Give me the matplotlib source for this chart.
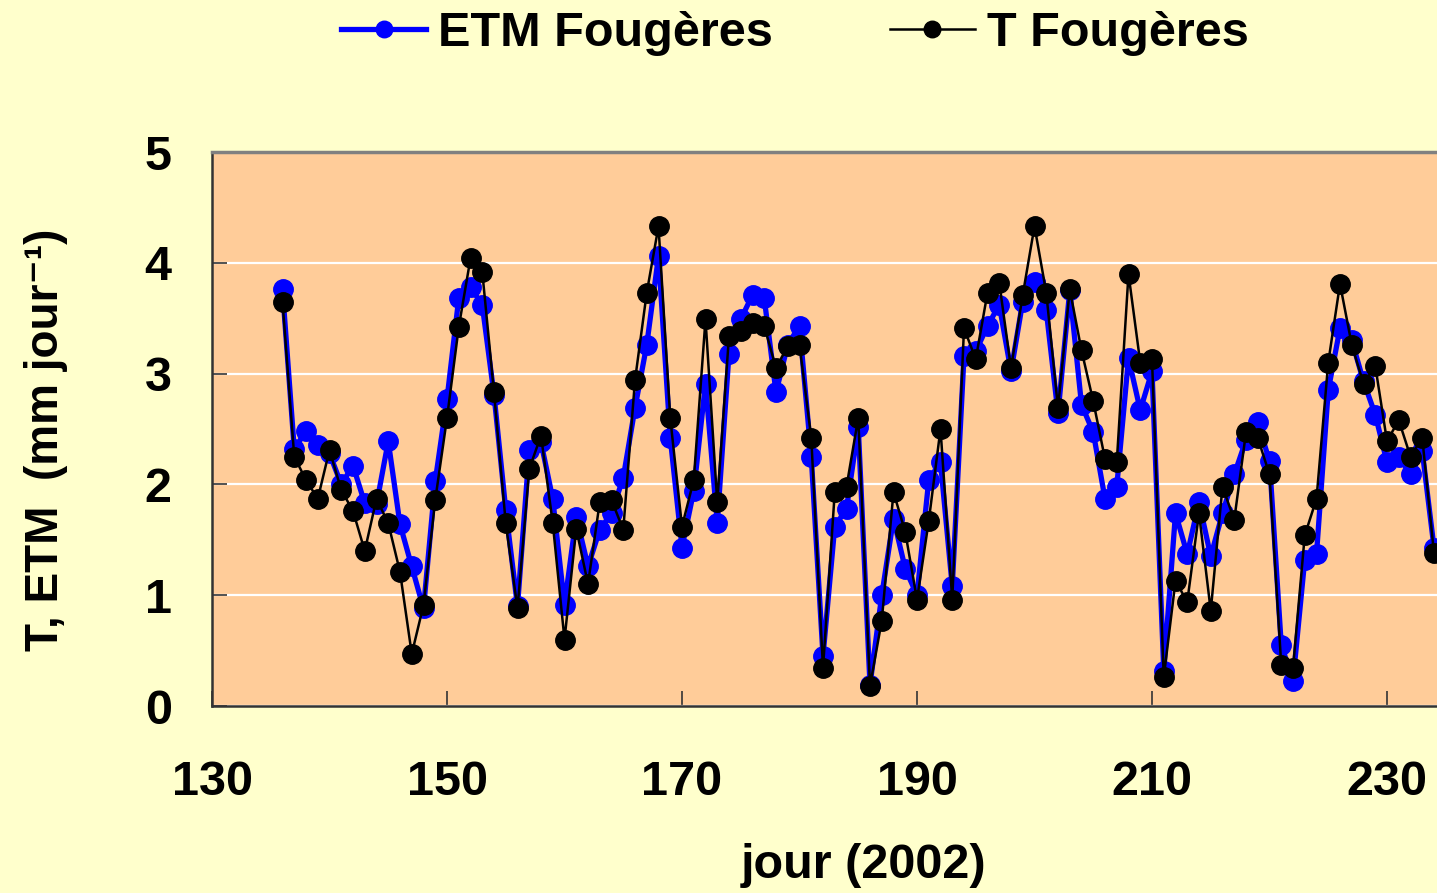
import numpy as np
import matplotlib
matplotlib.use("Agg")
import matplotlib.pyplot as plt

# jour (2002)
days = list(range(136, 235))

etm_fougeres = [
    3.76, 2.32, 2.48, 2.36, 2.28, 2.00, 2.17, 1.83, 1.82, 2.39,
    1.64, 1.26, 0.88, 2.03, 2.77, 3.68, 3.78, 3.62, 2.81, 1.77,
    0.90, 2.31, 2.38, 1.87, 0.91, 1.71, 1.26, 1.59, 1.74, 2.06,
    2.69, 3.26, 4.06, 2.42, 1.43, 1.94, 2.91, 1.65, 3.18, 3.49,
    3.71, 3.68, 2.83, 3.26, 3.43, 2.25, 0.45, 1.62, 1.78, 2.52,
    0.19, 1.00, 1.69, 1.24, 1.00, 2.04, 2.20, 1.08, 3.16, 3.20,
    3.43, 3.62, 3.02, 3.65, 3.83, 3.57, 2.64, 3.75, 2.72, 2.47,
    1.87, 1.98, 3.14, 2.67, 3.02, 0.32, 1.74, 1.37, 1.84, 1.35,
    1.74, 2.09, 2.40, 2.56, 2.21, 0.55, 0.23, 1.32, 1.37, 2.85,
    3.41, 3.30, 2.93, 2.63, 2.20, 2.25, 2.09, 2.30, 1.43,
]

t_fougeres = [
    3.65, 2.25, 2.04, 1.87, 2.31, 1.95, 1.76, 1.40, 1.87, 1.65,
    1.21, 0.47, 0.91, 1.86, 2.60, 3.42, 4.04, 3.92, 2.83, 1.65,
    0.88, 2.14, 2.44, 1.65, 0.60, 1.60, 1.10, 1.84, 1.86, 1.59,
    2.94, 3.73, 4.33, 2.60, 1.62, 2.04, 3.49, 1.84, 3.34, 3.38,
    3.46, 3.43, 3.05, 3.25, 3.26, 2.42, 0.34, 1.93, 1.98, 2.60,
    0.18, 0.77, 1.93, 1.57, 0.96, 1.67, 2.50, 0.96, 3.41, 3.13,
    3.73, 3.82, 3.05, 3.71, 4.33, 3.73, 2.69, 3.76, 3.21, 2.75,
    2.23, 2.20, 3.90, 3.10, 3.13, 0.26, 1.13, 0.94, 1.74, 0.86,
    1.98, 1.68, 2.47, 2.42, 2.09, 0.37, 0.34, 1.54, 1.87, 3.10,
    3.81, 3.26, 2.91, 3.07, 2.39, 2.58, 2.25, 2.42, 1.38,
]

x_ticks = [130, 150, 170, 190, 210, 230]
y_ticks = [0, 1, 2, 3, 4, 5]

plt.rcParams['font.family'] = ['Liberation Sans', 'DejaVu Sans']
plt.rcParams['font.weight'] = 'bold'

fig = plt.figure(figsize=(14.37, 8.93), dpi=100)
fig.patch.set_facecolor('#FFFFCC')

# axes run past the right edge of the figure, like the original
ax = fig.add_axes([212 / 1437, 187 / 893, 1292.5 / 1437, 554 / 893])
ax.set_facecolor('#FFCC99')

ax.plot(days, etm_fougeres, color='#0000FF', lw=3.8, marker='o', ms=14,
        mec='#0000FF', mfc='#0000FF', label='ETM Fougères', zorder=3)
ax.plot(days, t_fougeres, color='black', lw=1.8, marker='o', ms=14,
        mec='black', mfc='black', label='T Fougères', zorder=4)

ax.set_xlim(130, 240)
ax.set_ylim(0, 5)
ax.set_xticks(x_ticks)
ax.set_yticks(y_ticks)
ax.yaxis.grid(True, color='white', lw=1.6)
ax.set_axisbelow(True)

for side in ['left', 'bottom']:
    ax.spines[side].set_color('#333333')
    ax.spines[side].set_linewidth(1.8)
ax.spines['top'].set_color('#808080')
ax.spines['top'].set_linewidth(2.5)
ax.spines['right'].set_visible(False)

ax.tick_params(axis='both', direction='in', length=11, width=1.2,
               labelsize=35, color='#333333')
ax.tick_params(axis='x', pad=39)
ax.tick_params(axis='y', pad=29)
for lab in ax.get_xticklabels() + ax.get_yticklabels():
    lab.set_fontweight('bold')

fig.text(863 / 1437, 1 - 866 / 893, 'jour (2002)', fontsize=35,
         fontweight='bold', ha='center', va='center')
fig.text(46 / 1437, 1 - 440 / 893, 'T, ETM  (mm jour⁻¹)',
         fontsize=33, fontweight='bold', rotation=90, ha='center', va='center')

leg = fig.legend(loc='center', bbox_to_anchor=(795 / 1437, 1 - 34 / 893),
                 ncol=2, frameon=False, fontsize=35, handlelength=1.75,
                 handletextpad=0.25, columnspacing=2.4, markerscale=0.85)

plt.savefig('out.png', dpi=100, facecolor=fig.get_facecolor())
